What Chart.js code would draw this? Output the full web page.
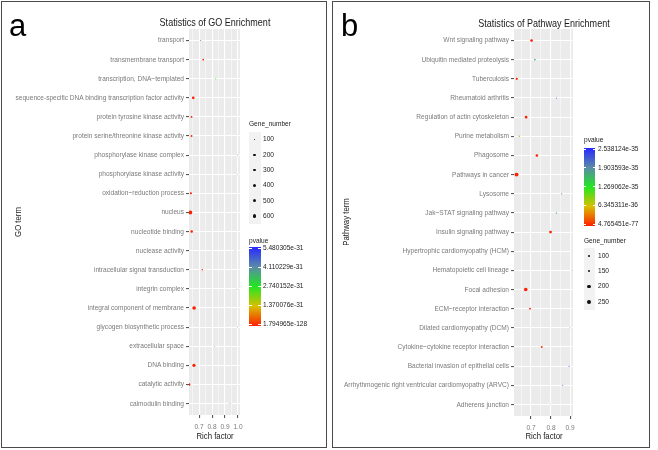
<!DOCTYPE html>
<html>
<head>
<meta charset="utf-8">
<script src="https://cdn.jsdelivr.net/npm/chart.js@4.4.0/dist/chart.umd.min.js"></script>
<style>
  html, body { margin: 0; padding: 0; background: #fff; }
  #wrap { position: relative; width: 658px; height: 450px; overflow: hidden;
          font-family: 'Liberation Sans', Arial, sans-serif; }
  .panel { position: absolute; border: 1.5px solid #4a4a4a; box-sizing: border-box; }
  canvas { position: absolute; top: 0; }
  .t { position: absolute; white-space: nowrap; line-height: 1; }
  .box { position: absolute; }
</style>
</head>
<body>
<div id="wrap">
  <div class="panel" style="left:1px;top:1px;width:326px;height:447px"></div>
  <div class="panel" style="left:332px;top:1px;width:318px;height:447px"></div>
  <canvas id="goChart" width="330" height="450" style="left:0"></canvas>
  <canvas id="pathChart" width="329" height="450" style="left:329px"></canvas>
</div>
<script>
// panel a - GO terms
const goTerms = ['transport', 'transmembrane transport', 'transcription, DNA\u2212templated',
  'sequence-specific DNA binding transcription factor activity', 'protein tyrosine kinase activity',
  'protein serine/threonine kinase activity', 'phosphorylase kinase complex', 'phosphorylase kinase activity',
  'oxidation\u2212reduction process', 'nucleus', 'nucleotide binding', 'nuclease activity',
  'intracellular signal transduction', 'integrin complex', 'integral component of membrane',
  'glycogen biosynthetic process', 'extracellular space', 'DNA binding', 'catalytic activity', 'calmodulin binding'];
const goRich = [0.711, 0.731, 0.828, 0.653, 0.640, 0.640, 0.997, 0.997, 0.635, 0.630,
  0.641, 0.979, 0.723, 0.995, 0.660, 1.000, 0.820, 0.659, 0.621, 0.940];
const goGenes = [100, 150, 98, 300, 170, 165, 92, 92, 190, 640,
  280, 92, 120, 92, 560, 92, 96, 420, 250, 94];
const goPvalue = [4.2e-31, 3.1e-45, 2.6e-31, 6.5e-70, 4.8e-50, 2.2e-48, 5.480305e-31, 5.4e-31, 1.1e-52, 1.794965e-128,
  3.3e-66, 4.9e-31, 1.9e-40, 5.2e-31, 8.7e-110, 5.3e-31, 3.8e-31, 2.4e-95, 1.5e-60, 4.5e-31];
const goSizeBreaks = [100, 200, 300, 400, 500, 600];

// panel b - KEGG pathways
const pathTerms = ['Wnt signaling pathway', 'Ubiquitin mediated proteolysis', 'Tuberculosis', 'Rheumatoid arthritis',
  'Regulation of actin cytoskeleton', 'Purine metabolism', 'Phagosome', 'Pathways in cancer', 'Lysosome',
  'Jak\u2212STAT signaling pathway', 'Insulin signaling pathway', 'Hypertrophic cardiomyopathy (HCM)',
  'Hematopoietic cell lineage', 'Focal adhesion', 'ECM\u2212receptor interaction', 'Dilated cardiomyopathy (DCM)',
  'Cytokine\u2212cytokine receptor interaction', 'Bacterial invasion of epithelial cells',
  'Arrhythmogenic right ventricular cardiomyopathy (ARVC)', 'Adherens junction'];
const pathRich = [0.703, 0.720, 0.627, 0.830, 0.675, 0.640, 0.730, 0.626, 0.857, 0.830,
  0.800, 0.910, 0.910, 0.673, 0.695, 0.900, 0.755, 0.895, 0.862, 0.800];
const pathGenes = [150, 95, 120, 80, 145, 90, 135, 265, 82, 85,
  150, 78, 78, 235, 100, 78, 110, 80, 80, 78];
const pathPvalue = [2.1e-50, 1.6e-35, 4.4e-45, 2.2e-35, 7.5e-48, 9.0e-36, 3.2e-52, 4.765451e-77, 2.0e-35, 1.7e-35,
  5.6e-55, 2.5381244e-35, 2.4e-35, 1.3e-70, 4.1e-40, 2.5e-35, 1.2e-36, 2.3e-35, 2.1e-35, 1.9e-35];
const pathSizeBreaks = [100, 150, 200, 250];

const gradStops = [[0, '#ff1e00'], [0.25, '#d8c000'], [0.5, '#22e622'], [0.75, '#5a8aa8'], [1, '#2828ff']];
const NARROW = 0.82; // the original uses a condensed face; squeeze Liberation Sans to match

function hexRgb(h) {
  return [1, 3, 5].map(i => parseInt(h.substr(i, 2), 16));
}
function colorAt(t) {
  t = Math.min(1, Math.max(0, t));
  for (let i = 1; i < gradStops.length; i++) {
    if (t <= gradStops[i][0]) {
      const [t0, c0] = gradStops[i - 1], [t1, c1] = gradStops[i];
      const f = (t - t0) / (t1 - t0);
      const a = hexRgb(c0), b = hexRgb(c1);
      return 'rgb(' + a.map((v, k) => Math.round(v + (b[k] - v) * f)).join(',') + ')';
    }
  }
  return gradStops[gradStops.length - 1][1];
}
function sizeScale(genes) {
  const lo = Math.min(...genes), hi = Math.max(...genes);
  return n => 0.35 + 1.6 * Math.sqrt(Math.max(0, (n - lo) / (hi - lo)));
}
const isMajor = v => Math.abs(v * 10 - Math.round(v * 10)) < 1e-6;

const panelBg = {
  id: 'panelBg',
  beforeDraw(chart) {
    const { ctx, chartArea: a } = chart;
    ctx.save();
    ctx.fillStyle = '#ebebeb';
    ctx.fillRect(a.left, a.top, a.right - a.left, a.bottom - a.top);
    ctx.restore();
  }
};

function makeChart(id, terms, rich, genes, pvals, o) {
  const rOf = sizeScale(genes);
  const pmin = Math.min(...pvals), pmax = Math.max(...pvals);
  const data = terms.map((t, i) => ({ x: rich[i], y: i, r: rOf(genes[i]) }));
  const colors = pvals.map(p => colorAt((p - pmin) / (pmax - pmin)));
  return new Chart(document.getElementById(id), {
    type: 'bubble',
    data: { datasets: [{ data: data, backgroundColor: colors, borderWidth: 0 }] },
    options: {
      responsive: false,
      animation: false,
      events: [],
      layout: { padding: { left: 0, top: o.top, right: o.right, bottom: 0 } },
      plugins: { legend: { display: false }, tooltip: { enabled: false } },
      scales: {
        x: {
          type: 'linear', min: o.xmin, max: o.xmax,
          afterFit: s => { s.height = o.xh; },
          ticks: { display: false, stepSize: 0.05, includeBounds: false, autoSkip: false },
          grid: {
            color: '#ffffff',
            lineWidth: c => isMajor(c.tick.value) ? 1.1 : 0.5,
            tickLength: 3,
            tickColor: c => isMajor(c.tick.value) ? '#555' : 'rgba(0,0,0,0)'
          },
          border: { display: false }
        },
        y: {
          type: 'linear', reverse: true, min: -0.6, max: terms.length - 0.4,
          afterFit: s => { s.width = o.yw; },
          ticks: { display: false, stepSize: 1, includeBounds: false, autoSkip: false },
          grid: { color: '#ffffff', lineWidth: 1.1, tickLength: 3, tickColor: '#555' },
          border: { display: false }
        }
      }
    },
    plugins: [panelBg]
  });
}

// labels and legends are DOM text
const wrap = document.getElementById('wrap');
function text(str, x, y, size, opts) {
  opts = opts || {};
  const el = document.createElement('div');
  el.className = 't';
  el.textContent = str;
  el.style.fontSize = size + 'px';
  el.style.left = x + 'px';
  el.style.top = y + 'px';
  el.style.color = opts.color || '#1a1a1a';
  const sx = opts.wide ? '' : ' scaleX(' + NARROW + ')';
  if (opts.rotate) {
    el.style.transform = 'translate(-50%, -50%) rotate(-90deg)' + sx;
  } else if (opts.align === 'center') {
    el.style.transform = 'translate(-50%, -50%)' + sx;
  } else if (opts.align === 'right') {
    el.style.transformOrigin = 'right center';
    el.style.transform = 'translate(-100%, -50%)' + sx;
  } else {
    el.style.transformOrigin = 'left center';
    el.style.transform = 'translate(0, -50%)' + sx;
  }
  wrap.appendChild(el);
}
function box(x, y, w, h, bg, radius) {
  const el = document.createElement('div');
  el.className = 'box';
  el.style.left = x + 'px';
  el.style.top = y + 'px';
  el.style.width = w + 'px';
  el.style.height = h + 'px';
  el.style.background = bg;
  if (radius) el.style.borderRadius = radius;
  wrap.appendChild(el);
}
function axisLabels(chart, offsetX, terms) {
  const xs = chart.scales.x, ys = chart.scales.y, area = chart.chartArea;
  terms.forEach((t, i) => {
    text(t, offsetX + area.left - 5, ys.getPixelForValue(i), 8, { align: 'right', color: '#7a7a7a' });
  });
  xs.ticks.filter(tk => isMajor(tk.value)).forEach(tk => {
    text(tk.value.toFixed(1), offsetX + xs.getPixelForValue(tk.value), area.bottom + 11.5, 8,
      { align: 'center', color: '#7a7a7a' });
  });
}
function sizeLegend(x, y, genes, breaks) {
  const rOf = sizeScale(genes);
  const step = 15.35;
  text('Gene_number', x, y, 8);
  box(x, y + 7.5, 11.5, step * breaks.length, '#f2f2f2');
  breaks.forEach((b, i) => {
    const cy = y + 15 + i * step;
    const r = rOf(b);
    box(x + 5.5 - r, cy - r, 2 * r, 2 * r, '#111', '50%');
    text(String(b), x + 14, cy, 8);
  });
}
function colorLegend(x, y, top, bottom, pvals) {
  const pmin = Math.min(...pvals), pmax = Math.max(...pvals);
  text('pvalue', x, y, 8);
  const css = gradStops.map(s => s[1] + ' ' + (s[0] * 100) + '%').join(',');
  box(x, top - 1.5, 11.5, bottom - top + 3, 'linear-gradient(to top,' + css + ')');
  for (let k = 0; k <= 4; k++) {
    const v = pmax - k * (pmax - pmin) / 4;
    const cy = top + k * (bottom - top) / 4;
    box(x, cy - 0.5, 2.5, 1, '#fff');
    box(x + 9, cy - 0.5, 2.5, 1, '#fff');
    text(k === 4 ? pmin.toExponential(6) : v.toExponential(6), x + 14, cy, 8);
  }
}

const goChart = makeChart('goChart', goTerms, goRich, goGenes, goPvalue,
  { top: 29, right: 90, xh: 35, yw: 189, xmin: 0.62, xmax: 1.018 });
const pathChart = makeChart('pathChart', pathTerms, pathRich, pathGenes, pathPvalue,
  { top: 29, right: 329 - 244, xh: 34, yw: 185, xmin: 0.613, xmax: 0.915 });

// panel a
text('a', 9, 25.3, 31, { wide: true, color: '#000' });
text('Statistics of GO Enrichment', 214.5, 22, 11, { align: 'center' });
text('GO term', 18, 222, 9.5, { rotate: true });
text('Rich factor', 214.5, 436, 9.5, { align: 'center' });
axisLabels(goChart, 0, goTerms);
sizeLegend(249, 124.3, goGenes, goSizeBreaks);
colorLegend(249, 240.7, 248, 324, goPvalue);

// panel b
text('b', 341, 25.3, 31, { wide: true, color: '#000' });
text('Statistics of Pathway Enrichment', 543.5, 23, 11, { align: 'center' });
text('Pathway term', 346, 222, 9.5, { rotate: true });
text('Rich factor', 544, 436, 9.5, { align: 'center' });
axisLabels(pathChart, 329, pathTerms);
colorLegend(583.5, 140, 149, 224.3, pathPvalue);
sizeLegend(583.5, 240.7, pathGenes, pathSizeBreaks);
</script>
</body>
</html>
